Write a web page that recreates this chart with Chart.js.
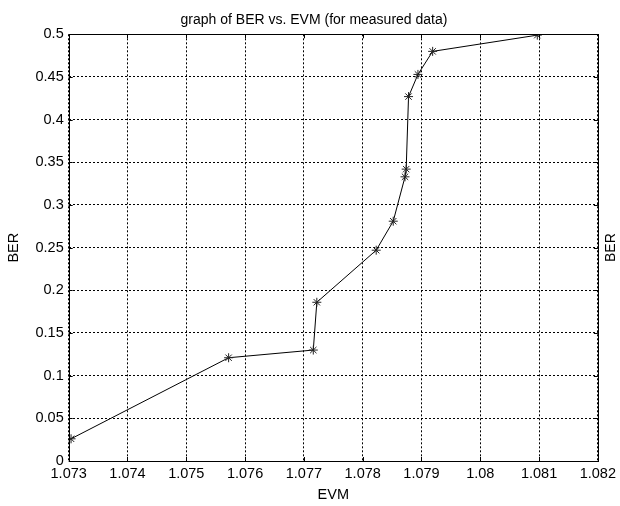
<!DOCTYPE html>
<html>
<head>
<meta charset="utf-8">
<script src="https://cdn.jsdelivr.net/npm/chart.js@4/dist/chart.umd.min.js"></script>
<style>
html,body{margin:0;padding:0;background:#fff;}
#wrap{width:620px;height:506px;position:relative;}
</style>
</head>
<body>
<div id="wrap"><canvas id="c" width="620" height="506"></canvas></div>
<script>
// ---- data ----
const evm = [1.07304, 1.07572, 1.07716, 1.07722, 1.07823, 1.07852, 1.07872, 1.07874, 1.07878, 1.07894, 1.07919, 1.08097];
const ber = [0.026, 0.121, 0.130, 0.186, 0.247, 0.281, 0.333, 0.342, 0.427, 0.453, 0.480, 0.499];
const xTickValues = [1.073, 1.074, 1.075, 1.076, 1.077, 1.078, 1.079, 1.080, 1.081, 1.082];
const xTickLabels = ['1.073', '1.074', '1.075', '1.076', '1.077', '1.078', '1.079', '1.08', '1.081', '1.082'];
const yTickValues = [0, 0.05, 0.1, 0.15, 0.2, 0.25, 0.3, 0.35, 0.4, 0.45, 0.5];
const yTickLabels = ['0', '0.05', '0.1', '0.15', '0.2', '0.25', '0.3', '0.35', '0.4', '0.45', '0.5'];
const titleText = 'graph of BER vs. EVM (for measured data)';
const xTitle = 'EVM';
const yTitle = 'BER';

const FONT = 'Arial, "Liberation Sans", sans-serif';

const points = evm.map((x, i) => ({x: x, y: ber[i]}));

const boxPlugin = {
  id: 'box',
  afterDraw(chart) {
    const {ctx, chartArea: a, scales} = chart;
    ctx.save();
    ctx.strokeStyle = '#000';
    ctx.lineWidth = 1;
    // ticks inward
    const tl = 4;
    ctx.beginPath();
    xTickValues.forEach(v => {
      const px = Math.round(scales.x.getPixelForValue(v)) + 0.5;
      ctx.moveTo(px, a.bottom); ctx.lineTo(px, a.bottom - tl);
      ctx.moveTo(px, a.top); ctx.lineTo(px, a.top + tl);
    });
    yTickValues.forEach(v => {
      const py = Math.round(scales.y.getPixelForValue(v)) + 0.5;
      ctx.moveTo(a.left, py); ctx.lineTo(a.left + tl, py);
      ctx.moveTo(a.right, py); ctx.lineTo(a.right - tl, py);
    });
    ctx.stroke();
    ctx.strokeRect(Math.round(a.left) + 0.5, Math.round(a.top) + 0.5,
                   Math.round(a.right - a.left), Math.round(a.bottom - a.top));
    ctx.fillStyle = '#000';
    ctx.font = '14px ' + FONT;
    ctx.textAlign = 'center';
    ctx.textBaseline = 'middle';
    // title
    ctx.fillText(titleText, 314, 20);
    // right side label (reads bottom-to-top like the left one)
    ctx.translate(611.5, (a.top + a.bottom) / 2);
    ctx.rotate(-Math.PI / 2);
    ctx.fillText(yTitle, 0, 0);
    ctx.restore();
  }
};

new Chart(document.getElementById('c'), {
  type: 'scatter',
  data: {
    datasets: [{
      data: points,
      showLine: true,
      borderColor: '#000',
      borderWidth: 1,
      backgroundColor: '#000',
      pointStyle: 'star',
      pointRadius: 4.5,
      pointBorderColor: '#222',
      pointBorderWidth: 1,
      pointHoverRadius: 4.5,
      tension: 0
    }]
  },
  options: {
    responsive: false,
    animation: false,
    devicePixelRatio: 1,
    layout: {padding: {left: 0, right: 20, top: 34.3, bottom: 0}},
    plugins: {
      legend: {display: false},
      tooltip: {enabled: false},
      title: {display: false}
    },
    scales: {
      x: {
        type: 'linear',
        min: 1.073, max: 1.082,
        afterBuildTicks(s) { s.ticks = xTickValues.map(v => ({value: v})); },
        afterFit(s) { s.height = 45; },
        ticks: {
          color: '#000',
          font: {family: FONT, size: 14.5, lineHeight: 1.2},
          padding: 4,
          maxRotation: 0,
          autoSkip: false,
          callback(v, i) { return xTickLabels[i]; }
        },
        grid: {color: '#000', lineWidth: 1, drawTicks: false, tickLength: 0},
        border: {display: false, dash: [2, 2]},
        title: {
          display: true, text: xTitle, color: '#000',
          font: {family: FONT, size: 14.5, lineHeight: 1.2},
          padding: {top: 0, bottom: 2.5}
        }
      },
      y: {
        type: 'linear',
        min: 0, max: 0.5,
        afterBuildTicks(s) { s.ticks = yTickValues.map(v => ({value: v})); },
        afterFit(s) { s.width = 68.7; },
        ticks: {
          color: '#000',
          font: {family: FONT, size: 14.5, lineHeight: 1.2},
          padding: 5,
          autoSkip: false,
          callback(v, i) { return yTickLabels[i]; }
        },
        grid: {color: '#000', lineWidth: 1, drawTicks: false, tickLength: 0},
        border: {display: false, dash: [2, 2]},
        title: {
          display: true, text: yTitle, color: '#000',
          font: {family: FONT, size: 14.5, lineHeight: 1.2},
          padding: {top: 5.5, bottom: 0}
        }
      }
    }
  },
  plugins: [boxPlugin]
});
</script>
</body>
</html>
